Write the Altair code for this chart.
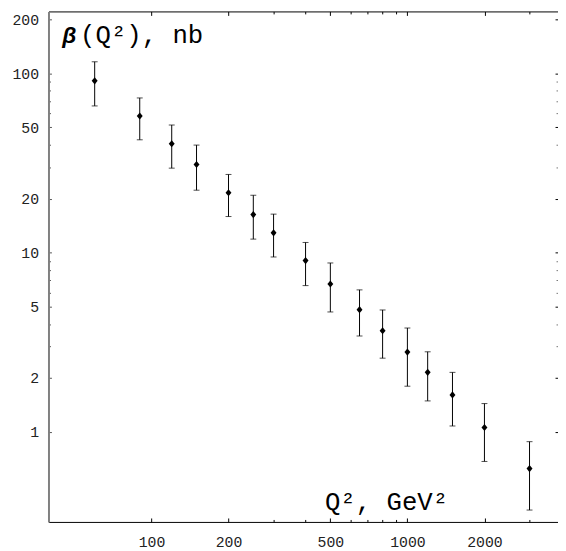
import altair as alt
import pandas as pd

# ---- data ----
q2 = [60, 90, 120, 150, 200, 250, 300, 400, 500, 650, 800, 1000, 1200, 1500, 2000, 3000]
beta = [90.8, 57.8, 40.5, 31.0, 21.6, 16.3, 12.9, 9.03, 6.69, 4.81, 3.67, 2.79, 2.15, 1.61, 1.06, 0.625]
beta_hi = [116, 72.9, 51.5, 39.8, 27.3, 20.9, 16.4, 11.4, 8.76, 6.20, 4.79, 3.80, 2.80, 2.15, 1.44, 0.883]
beta_lo = [65.8, 42.6, 29.6, 22.3, 15.9, 11.9, 9.46, 6.55, 4.67, 3.43, 2.58, 1.80, 1.49, 1.08, 0.685, 0.367]

x_major = [100, 200, 500, 1000, 2000]
x_minor = [300, 400, 600, 700, 800, 900, 3000]
y_major = [1, 2, 5, 10, 20, 50, 100, 200]
y_minor = [3, 4, 6, 7, 8, 9, 30, 40, 60, 70, 80, 90]

x_domain = [39.6, 3876]
y_domain = [0.315, 221.4]

df = pd.DataFrame({"q2": q2, "beta": beta, "hi": beta_hi, "lo": beta_lo})

W, H = 516, 517
FONT = "Liberation Mono"

xs = alt.Scale(type="log", domain=x_domain, nice=False)
ys = alt.Scale(type="log", domain=y_domain, nice=False)

base = alt.Chart(df)

diamond = "M0,-1.2L1,0L0,1.2L-1,0Z"

points = base.mark_point(shape=diamond, filled=True, color="black", size=36, opacity=1).encode(
    x=alt.X("q2:Q", scale=xs, axis=alt.Axis(
        orient="bottom", values=x_major, format="d", ticks=False, tickSize=0, domain=True,
        domainColor="black", domainWidth=1, labelFont=FONT, labelFontSize=15,
        labelColor="#222222", labelPadding=13, grid=False, title=None, labelFlush=False)),
    y=alt.Y("beta:Q", scale=ys, axis=alt.Axis(
        orient="left", values=y_major, format="d", ticks=False, tickSize=0, domain=True,
        domainColor="#808080", domainWidth=2, labelFont=FONT, labelFontSize=15,
        labelColor="#222222", labelPadding=10, grid=False, title=None, labelFlush=False)),
)

err = base.mark_rule(color="black", strokeWidth=1).encode(
    x=alt.X("q2:Q", scale=xs, axis=None),
    y=alt.Y("lo:Q", scale=ys, axis=None),
    y2="hi:Q",
)
cap_hi = base.mark_tick(orient="horizontal", color="black", size=6, thickness=1).encode(
    x=alt.X("q2:Q", scale=xs, axis=None),
    y=alt.Y("hi:Q", scale=ys, axis=None),
)
cap_lo = base.mark_tick(orient="horizontal", color="black", size=6, thickness=1).encode(
    x=alt.X("q2:Q", scale=xs, axis=None),
    y=alt.Y("lo:Q", scale=ys, axis=None),
)


def x_tick_layer(orient, values, size, domain=False):
    return base.mark_point(opacity=0).encode(
        x=alt.X("q2:Q", scale=xs, axis=alt.Axis(
            orient=orient, offset=-H, values=values, tickSize=size, ticks=True,
            tickColor="black", tickWidth=1, labels=False, domain=domain,
            domainColor="black", domainWidth=1, grid=False, title=None)),
        y=alt.Y("beta:Q", scale=ys, axis=None),
    )


def y_tick_layer(orient, values, size, color="black"):
    return base.mark_point(opacity=0).encode(
        x=alt.X("q2:Q", scale=xs, axis=None),
        y=alt.Y("beta:Q", scale=ys, axis=alt.Axis(
            orient=orient, offset=-W, values=values, tickSize=size, ticks=True,
            tickColor=color, tickWidth=1, labels=False, domain=False,
            grid=False, title=None)),
    )


layers = [
    x_tick_layer("top", x_major, 4),          # bottom edge, inward
    x_tick_layer("top", x_minor, 2.5),
    x_tick_layer("bottom", x_major, 4, domain=True),  # top edge, inward
    x_tick_layer("bottom", x_minor, 2.5),
    y_tick_layer("right", y_major, 3, "#555555"),     # left edge, inward
    y_tick_layer("right", y_minor, 2, "#555555"),
    y_tick_layer("left", y_major, 3),                 # right edge, inward
    y_tick_layer("left", y_minor, 2, "#777777"),
    err, cap_hi, cap_lo, points,
]

beta_txt = alt.Chart(pd.DataFrame({"t": ["β"]})).mark_text(
    font="Liberation Sans", fontSize=23, fontWeight="bold", fontStyle="italic",
    align="left", baseline="alphabetic", color="black",
).encode(x=alt.value(14), y=alt.value(32), text="t:N")

ylab_txt = alt.Chart(pd.DataFrame({"t": ["(Q²), nb"]})).mark_text(
    font="Liberation Mono", fontSize=26, align="left", baseline="alphabetic", color="black",
).encode(x=alt.value(32), y=alt.value(32), text="t:N")

xlab_txt = alt.Chart(pd.DataFrame({"t": ["Q², GeV²"]})).mark_text(
    font="Liberation Mono", fontSize=26, align="left", baseline="alphabetic", color="black",
).encode(x=alt.value(280), y=alt.value(505), text="t:N")

chart = alt.layer(*layers, beta_txt, ylab_txt, xlab_txt).resolve_axis(
    x="independent", y="independent"
).properties(
    width=W, height=H,
    autosize=alt.AutoSizeParams(type="none"),
    padding={"left": 41, "top": 0, "right": 0, "bottom": 30},
    background="white",
).configure_view(stroke=None)

chart.save("out.html", embed_options={"renderer": "svg", "actions": False})
